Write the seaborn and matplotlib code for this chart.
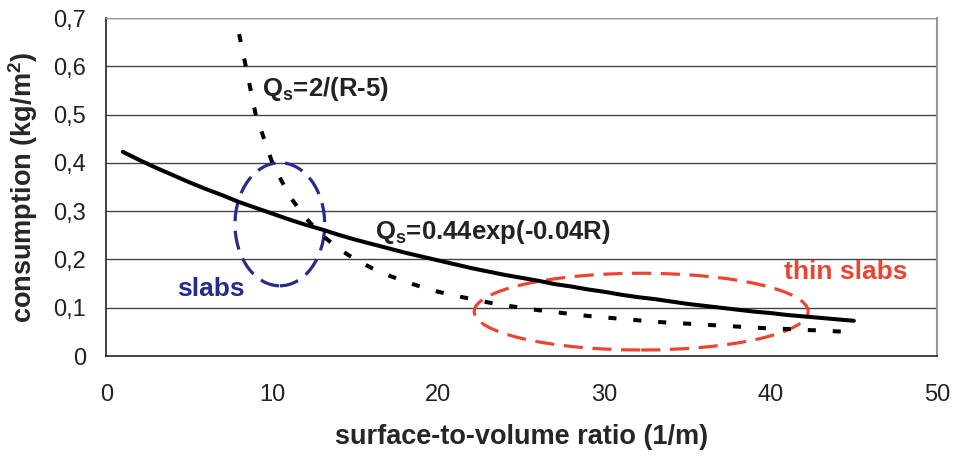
import numpy as np
import pandas as pd
import seaborn as sns
import matplotlib.pyplot as plt
from matplotlib.patches import Ellipse

# values (consumption in kg/m2)
r_exp = list(range(1, 46))
qs_exp = [0.423, 0.406, 0.390, 0.375, 0.360, 0.346, 0.333, 0.319, 0.307, 0.295,
          0.283, 0.272, 0.262, 0.251, 0.241, 0.232, 0.223, 0.214, 0.206, 0.198,
          0.190, 0.182, 0.175, 0.168, 0.162, 0.156, 0.149, 0.144, 0.138, 0.133,
          0.127, 0.122, 0.118, 0.113, 0.108, 0.104, 0.100, 0.096, 0.092, 0.089,
          0.085, 0.082, 0.079, 0.076, 0.073]

r_hyp = list(range(8, 46))
qs_hyp = [0.667, 0.500, 0.400, 0.333, 0.286, 0.250, 0.222, 0.200, 0.182, 0.167,
          0.154, 0.143, 0.133, 0.125, 0.118, 0.111, 0.105, 0.100, 0.095, 0.091,
          0.087, 0.083, 0.080, 0.077, 0.074, 0.071, 0.069, 0.067, 0.065, 0.063,
          0.061, 0.059, 0.057, 0.056, 0.054, 0.053, 0.051, 0.050]

x_ticks = [0, 10, 20, 30, 40, 50]
y_ticks = [0, 0.1, 0.2, 0.3, 0.4, 0.5, 0.6, 0.7]
y_tick_labels = ['0', '0,1', '0,2', '0,3', '0,4', '0,5', '0,6', '0,7']

df_exp = pd.DataFrame({'R': r_exp, 'Qs': qs_exp})
df_hyp = pd.DataFrame({'R': r_hyp, 'Qs': qs_hyp})

sns.set_style('white')
plt.rcParams['font.family'] = ['Liberation Sans', 'DejaVu Sans']
plt.rcParams['mathtext.default'] = 'regular'

fig = plt.figure(figsize=(9.57, 4.66), dpi=100)
ax = fig.add_axes([0.111, 0.236, 0.868, 0.725])

# grid lines
for y in y_ticks[1:]:
    ax.axhline(y, color='#444444', lw=1.0, zorder=0)

sns.lineplot(data=df_exp, x='R', y='Qs', ax=ax, color='black', lw=2.9)
sns.lineplot(data=df_hyp, x='R', y='Qs', ax=ax, color='black', lw=2.9)
ax.lines[-1].set_linestyle((0, (2.0, 4.2)))
ax.lines[-1].set_dash_capstyle('butt')

# highlight ellipses
ax.add_patch(Ellipse((10.45, 0.273), 5.4, 0.255, fill=False,
                     edgecolor='#262b8c', lw=2.3, ls=(0, (6, 3))))
ax.add_patch(Ellipse((32.2, 0.092), 20.1, 0.159, fill=False,
                     edgecolor='#ea4432', lw=2.3, ls=(0, (6, 3))))

ax.text(9.4, 0.554, 'Q$_s$=2/(R-5)', fontsize=18.5, fontweight='bold',
        va='center', ha='left', color='#222222')
ax.text(16.2, 0.257, 'Q$_s$=0.44exp(-0.04R)', fontsize=18.5, fontweight='bold',
        va='center', ha='left', color='#222222')
ax.text(6.27, 0.139, 'slabs', fontsize=19, fontweight='bold',
        va='center', ha='center', color='#262b8c')
ax.text(44.5, 0.174, 'thin slabs', fontsize=19, fontweight='bold',
        va='center', ha='center', color='#ea4432')

ax.set_xlim(0, 50)
ax.set_ylim(0, 0.7)
ax.set_xticks(x_ticks)
ax.set_yticks(y_ticks)
ax.set_yticklabels(y_tick_labels)
ax.tick_params(axis='both', labelsize=17, length=7.5, width=1,
               direction='out', colors='#222222', pad=7)
ax.tick_params(axis='x', pad=13)

ax.set_xlabel('surface-to-volume ratio (1/m)', fontsize=19.5,
              fontweight='bold', va='top')
ax.xaxis.set_label_coords(0.5, -0.2)
ax.set_ylabel('consumption (kg/m$^2$)', fontsize=19.5, fontweight='bold')
ax.yaxis.set_label_coords(-0.08, 0.5)

for side in ['left', 'bottom']:
    ax.spines[side].set_color('#222222')
    ax.spines[side].set_linewidth(1.2)
ax.spines['top'].set_color('#999999')
ax.spines['right'].set_color('#999999')
ax.spines['right'].set_linewidth(1.5)

fig.savefig('out.png', dpi=100)
